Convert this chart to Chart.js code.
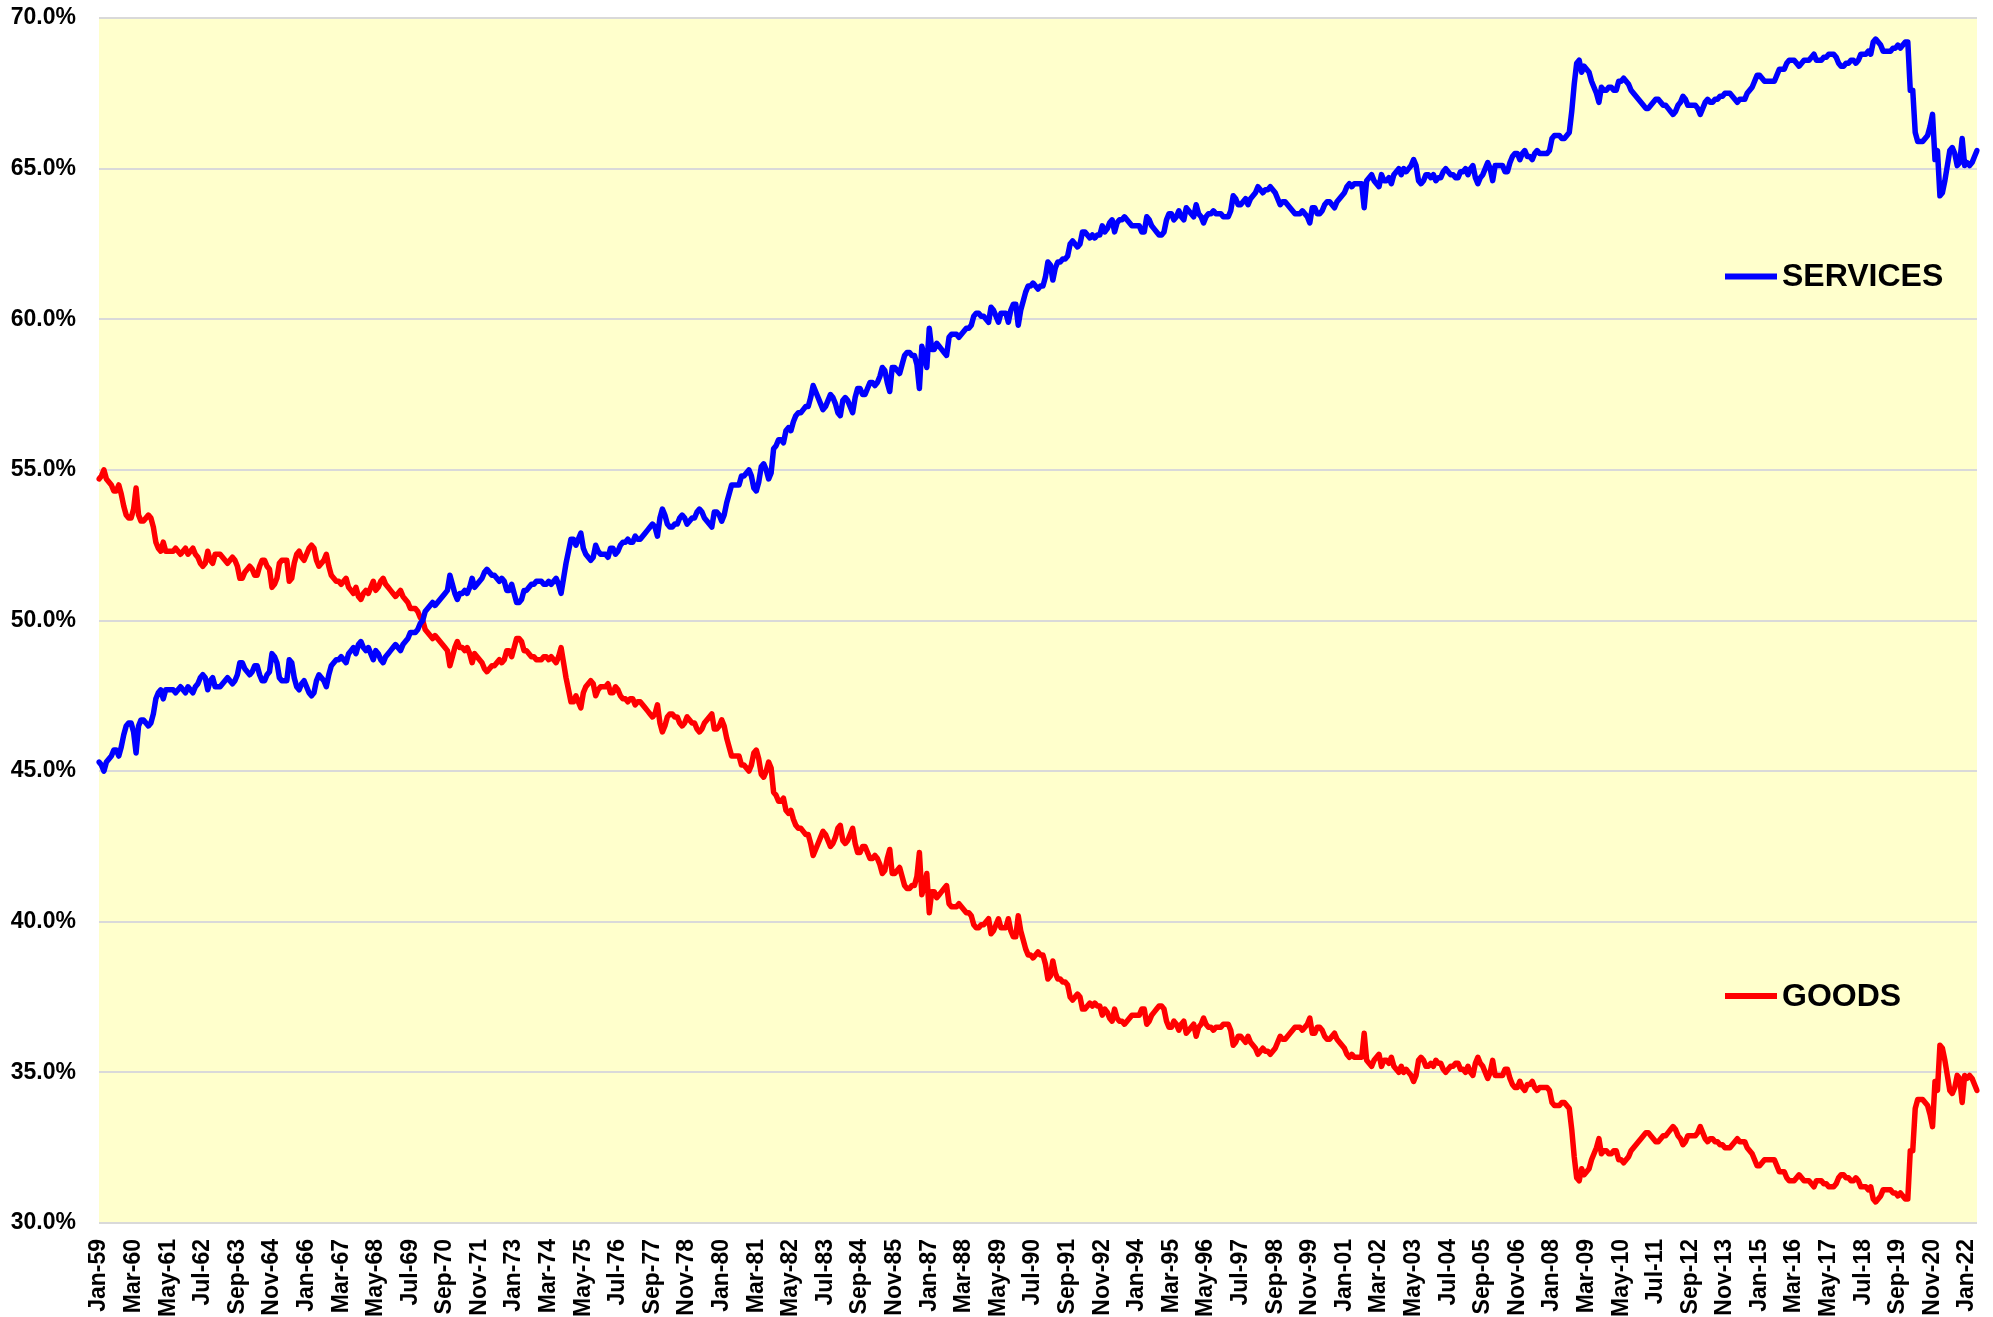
<!DOCTYPE html>
<html>
<head>
<meta charset="utf-8">
<script src="https://cdn.jsdelivr.net/npm/chart.js@4/dist/chart.umd.min.js"></script>
<style>
html,body{margin:0;padding:0;background:#ffffff;}
#wrap{width:1993px;height:1317px;}
</style>
</head>
<body>
<div id="wrap"><canvas id="c" width="1993" height="1317"></canvas></div>
<script>
// ---- DATA ----
const monthNames = ['Jan','Feb','Mar','Apr','May','Jun','Jul','Aug','Sep','Oct','Nov','Dec'];
const firstYear = 1959, lastYear = 2022, lastMonthIndex = 4; // data ends May-22
const xTickEvery = 14; // a tick label every 14 months
const yTicks = [30, 35, 40, 45, 50, 55, 60, 65, 70];

// Services share of spending (%), monthly, one row per year
const servicesShare = [
45.3,45.2,45.0,45.3,45.4,45.5,45.7,45.7,45.5,45.8,46.2,46.5,
46.6,46.6,46.3,45.6,46.5,46.7,46.7,46.6,46.5,46.6,46.9,47.4,
47.6,47.7,47.4,47.7,47.7,47.7,47.7,47.6,47.7,47.8,47.7,47.6,
47.8,47.7,47.6,47.8,47.9,48.1,48.2,48.1,47.7,48.0,48.1,47.8,
47.8,47.8,47.9,48.0,48.1,48.0,47.9,48.0,48.2,48.6,48.6,48.4,
48.3,48.2,48.3,48.5,48.5,48.2,48.0,48.0,48.2,48.3,48.9,48.8,
48.6,48.1,48.0,48.0,48.0,48.7,48.6,48.1,47.8,47.7,47.9,48.0,
47.8,47.6,47.5,47.6,48.0,48.2,48.1,48.0,47.8,48.2,48.5,48.6,
48.7,48.7,48.8,48.7,48.6,48.9,49.0,49.1,48.9,49.2,49.3,49.1,
49.0,49.1,48.9,48.7,49.0,48.9,48.7,48.6,48.8,48.9,49.0,49.1,
49.2,49.1,49.0,49.2,49.3,49.4,49.6,49.6,49.6,49.7,49.9,50.0,
50.3,50.4,50.5,50.6,50.5,50.6,50.7,50.8,50.9,51.0,51.5,51.2,
50.9,50.7,50.9,50.9,51.0,50.9,51.1,51.4,51.1,51.2,51.3,51.4,
51.6,51.7,51.6,51.5,51.5,51.4,51.3,51.4,51.3,51.0,51.0,51.2,
50.9,50.6,50.6,50.7,51.0,51.0,51.1,51.2,51.2,51.3,51.3,51.3,
51.2,51.2,51.3,51.2,51.3,51.4,51.2,50.9,51.4,51.9,52.3,52.7,
52.7,52.5,52.7,52.9,52.4,52.2,52.1,52.0,52.1,52.5,52.3,52.2,
52.2,52.2,52.1,52.4,52.4,52.2,52.3,52.5,52.6,52.6,52.7,52.6,
52.6,52.8,52.7,52.7,52.8,52.9,53.0,53.1,53.2,53.1,52.8,53.4,
53.7,53.5,53.2,53.1,53.1,53.2,53.2,53.4,53.5,53.4,53.2,53.3,
53.4,53.4,53.6,53.7,53.6,53.4,53.3,53.2,53.1,53.6,53.6,53.5,
53.3,53.5,53.9,54.2,54.5,54.5,54.5,54.5,54.8,54.8,54.9,55.0,
54.8,54.4,54.3,54.6,55.1,55.2,55.0,54.7,54.9,55.7,55.8,56.0,
56.0,55.9,56.3,56.4,56.3,56.6,56.8,56.9,56.9,57.0,57.1,57.1,
57.4,57.8,57.6,57.4,57.2,57.0,57.1,57.3,57.5,57.4,57.2,56.9,
56.8,57.3,57.4,57.3,57.1,56.9,57.4,57.7,57.7,57.5,57.5,57.7,
57.9,57.9,57.8,57.9,58.1,58.4,58.3,57.9,57.6,58.4,58.4,58.3,
58.2,58.5,58.8,58.9,58.9,58.8,58.8,58.5,57.7,59.1,58.8,58.4,
59.7,59.0,59.0,59.2,59.1,59.0,58.9,58.8,59.4,59.5,59.5,59.5,
59.4,59.5,59.6,59.7,59.7,59.8,60.1,60.2,60.2,60.1,60.1,60.0,
59.9,60.4,60.3,60.1,59.9,60.2,60.2,60.2,59.9,60.3,60.5,60.5,
59.8,60.3,60.6,60.9,61.1,61.1,61.2,61.1,61.0,61.1,61.1,61.4,
61.9,61.8,61.3,61.7,61.9,61.9,62.0,62.0,62.1,62.5,62.6,62.5,
62.4,62.5,62.9,62.9,62.8,62.7,62.8,62.7,62.8,62.8,63.1,62.9,
63.0,63.2,63.3,62.9,63.2,63.3,63.3,63.4,63.3,63.2,63.1,63.1,
63.1,63.1,62.9,62.9,63.4,63.3,63.1,63.0,62.9,62.8,62.8,62.9,
63.3,63.5,63.5,63.3,63.4,63.6,63.4,63.3,63.7,63.6,63.5,63.4,
63.8,63.5,63.4,63.2,63.4,63.5,63.5,63.6,63.5,63.5,63.5,63.4,
63.4,63.4,63.6,64.1,64.0,63.8,63.8,63.9,64.0,63.8,64.0,64.1,
64.2,64.4,64.3,64.2,64.3,64.3,64.4,64.3,64.2,64.0,63.8,63.9,
63.9,63.8,63.7,63.6,63.5,63.5,63.5,63.6,63.5,63.4,63.2,63.7,
63.7,63.5,63.5,63.6,63.8,63.9,63.9,63.8,63.7,63.9,64.0,64.1,
64.2,64.4,64.5,64.4,64.5,64.5,64.5,64.5,63.7,64.6,64.7,64.8,
64.6,64.5,64.4,64.8,64.6,64.6,64.7,64.5,64.8,64.9,65.0,64.8,
65.0,64.9,65.0,65.1,65.3,65.1,64.6,64.5,64.6,64.8,64.8,64.7,
64.8,64.6,64.7,64.7,64.9,65.0,64.9,64.8,64.8,64.7,64.7,64.9,
64.9,65.0,64.8,65.0,65.1,64.7,64.5,64.7,64.8,65.0,65.2,65.0,
64.6,65.1,65.1,65.1,65.1,64.9,64.9,65.2,65.4,65.5,65.5,65.3,
65.5,65.6,65.4,65.4,65.3,65.5,65.6,65.5,65.5,65.5,65.5,65.6,
66.0,66.1,66.1,66.1,66.0,66.0,66.1,66.2,66.9,67.8,68.5,68.6,
68.2,68.4,68.3,68.2,67.9,67.7,67.5,67.2,67.7,67.6,67.6,67.7,
67.7,67.6,67.6,67.9,67.9,68.0,67.9,67.8,67.6,67.5,67.4,67.3,
67.2,67.1,67.0,67.0,67.1,67.2,67.3,67.3,67.2,67.1,67.1,67.0,
66.9,66.8,66.9,67.1,67.2,67.4,67.3,67.1,67.1,67.1,67.1,67.0,
66.8,67.0,67.2,67.3,67.2,67.2,67.3,67.3,67.4,67.4,67.5,67.5,
67.5,67.4,67.3,67.2,67.3,67.3,67.3,67.5,67.6,67.7,67.9,68.1,
68.1,68.0,67.9,67.9,67.9,67.9,67.9,68.1,68.3,68.3,68.3,68.5,
68.6,68.6,68.6,68.5,68.4,68.5,68.6,68.6,68.6,68.7,68.8,68.6,
68.6,68.6,68.7,68.7,68.8,68.8,68.8,68.7,68.5,68.4,68.4,68.5,
68.5,68.6,68.6,68.5,68.6,68.8,68.8,68.8,68.9,68.8,69.2,69.3,
69.2,69.1,68.9,68.9,68.9,68.9,69.0,69.0,69.1,69.0,69.1,69.2,
69.2,67.6,67.6,66.2,65.9,65.9,65.9,66.0,66.1,66.4,66.8,65.3,
65.6,64.1,64.2,64.6,65.1,65.6,65.7,65.5,65.1,65.2,66.0,65.1,
65.2,65.1,65.2,65.4,65.6
];

// Goods share of spending (%), monthly, one row per year
const goodsShare = [
54.7,54.8,55.0,54.7,54.6,54.5,54.3,54.3,54.5,54.2,53.8,53.5,
53.4,53.4,53.7,54.4,53.5,53.3,53.3,53.4,53.5,53.4,53.1,52.6,
52.4,52.3,52.6,52.3,52.3,52.3,52.3,52.4,52.3,52.2,52.3,52.4,
52.2,52.3,52.4,52.2,52.1,51.9,51.8,51.9,52.3,52.0,51.9,52.2,
52.2,52.2,52.1,52.0,51.9,52.0,52.1,52.0,51.8,51.4,51.4,51.6,
51.7,51.8,51.7,51.5,51.5,51.8,52.0,52.0,51.8,51.7,51.1,51.2,
51.4,51.9,52.0,52.0,52.0,51.3,51.4,51.9,52.2,52.3,52.1,52.0,
52.2,52.4,52.5,52.4,52.0,51.8,51.9,52.0,52.2,51.8,51.5,51.4,
51.3,51.3,51.2,51.3,51.4,51.1,51.0,50.9,51.1,50.8,50.7,50.9,
51.0,50.9,51.1,51.3,51.0,51.1,51.3,51.4,51.2,51.1,51.0,50.9,
50.8,50.9,51.0,50.8,50.7,50.6,50.4,50.4,50.4,50.3,50.1,50.0,
49.7,49.6,49.5,49.4,49.5,49.4,49.3,49.2,49.1,49.0,48.5,48.8,
49.1,49.3,49.1,49.1,49.0,49.1,48.9,48.6,48.9,48.8,48.7,48.6,
48.4,48.3,48.4,48.5,48.5,48.6,48.7,48.6,48.7,49.0,49.0,48.8,
49.1,49.4,49.4,49.3,49.0,49.0,48.9,48.8,48.8,48.7,48.7,48.7,
48.8,48.8,48.7,48.8,48.7,48.6,48.8,49.1,48.6,48.1,47.7,47.3,
47.3,47.5,47.3,47.1,47.6,47.8,47.9,48.0,47.9,47.5,47.7,47.8,
47.8,47.8,47.9,47.6,47.6,47.8,47.7,47.5,47.4,47.4,47.3,47.4,
47.4,47.2,47.3,47.3,47.2,47.1,47.0,46.9,46.8,46.9,47.2,46.6,
46.3,46.5,46.8,46.9,46.9,46.8,46.8,46.6,46.5,46.6,46.8,46.7,
46.6,46.6,46.4,46.3,46.4,46.6,46.7,46.8,46.9,46.4,46.4,46.5,
46.7,46.5,46.1,45.8,45.5,45.5,45.5,45.5,45.2,45.2,45.1,45.0,
45.2,45.6,45.7,45.4,44.9,44.8,45.0,45.3,45.1,44.3,44.2,44.0,
44.0,44.1,43.7,43.6,43.7,43.4,43.2,43.1,43.1,43.0,42.9,42.9,
42.6,42.2,42.4,42.6,42.8,43.0,42.9,42.7,42.5,42.6,42.8,43.1,
43.2,42.7,42.6,42.7,42.9,43.1,42.6,42.3,42.3,42.5,42.5,42.3,
42.1,42.1,42.2,42.1,41.9,41.6,41.7,42.1,42.4,41.6,41.6,41.7,
41.8,41.5,41.2,41.1,41.1,41.2,41.2,41.5,42.3,40.9,41.2,41.6,
40.3,41.0,41.0,40.8,40.9,41.0,41.1,41.2,40.6,40.5,40.5,40.5,
40.6,40.5,40.4,40.3,40.3,40.2,39.9,39.8,39.8,39.9,39.9,40.0,
40.1,39.6,39.7,39.9,40.1,39.8,39.8,39.8,40.1,39.7,39.5,39.5,
40.2,39.7,39.4,39.1,38.9,38.9,38.8,38.9,39.0,38.9,38.9,38.6,
38.1,38.2,38.7,38.3,38.1,38.1,38.0,38.0,37.9,37.5,37.4,37.5,
37.6,37.5,37.1,37.1,37.2,37.3,37.2,37.3,37.2,37.2,36.9,37.1,
37.0,36.8,36.7,37.1,36.8,36.7,36.7,36.6,36.7,36.8,36.9,36.9,
36.9,36.9,37.1,37.1,36.6,36.7,36.9,37.0,37.1,37.2,37.2,37.1,
36.7,36.5,36.5,36.7,36.6,36.4,36.6,36.7,36.3,36.4,36.5,36.6,
36.2,36.5,36.6,36.8,36.6,36.5,36.5,36.4,36.5,36.5,36.5,36.6,
36.6,36.6,36.4,35.9,36.0,36.2,36.2,36.1,36.0,36.2,36.0,35.9,
35.8,35.6,35.7,35.8,35.7,35.7,35.6,35.7,35.8,36.0,36.2,36.1,
36.1,36.2,36.3,36.4,36.5,36.5,36.5,36.4,36.5,36.6,36.8,36.3,
36.3,36.5,36.5,36.4,36.2,36.1,36.1,36.2,36.3,36.1,36.0,35.9,
35.8,35.6,35.5,35.6,35.5,35.5,35.5,35.5,36.3,35.4,35.3,35.2,
35.4,35.5,35.6,35.2,35.4,35.4,35.3,35.5,35.2,35.1,35.0,35.2,
35.0,35.1,35.0,34.9,34.7,34.9,35.4,35.5,35.4,35.2,35.2,35.3,
35.2,35.4,35.3,35.3,35.1,35.0,35.1,35.2,35.2,35.3,35.3,35.1,
35.1,35.0,35.2,35.0,34.9,35.3,35.5,35.3,35.2,35.0,34.8,35.0,
35.4,34.9,34.9,34.9,34.9,35.1,35.1,34.8,34.6,34.5,34.5,34.7,
34.5,34.4,34.6,34.6,34.7,34.5,34.4,34.5,34.5,34.5,34.5,34.4,
34.0,33.9,33.9,33.9,34.0,34.0,33.9,33.8,33.1,32.2,31.5,31.4,
31.8,31.6,31.7,31.8,32.1,32.3,32.5,32.8,32.3,32.4,32.4,32.3,
32.3,32.4,32.4,32.1,32.1,32.0,32.1,32.2,32.4,32.5,32.6,32.7,
32.8,32.9,33.0,33.0,32.9,32.8,32.7,32.7,32.8,32.9,32.9,33.0,
33.1,33.2,33.1,32.9,32.8,32.6,32.7,32.9,32.9,32.9,32.9,33.0,
33.2,33.0,32.8,32.7,32.8,32.8,32.7,32.7,32.6,32.6,32.5,32.5,
32.5,32.6,32.7,32.8,32.7,32.7,32.7,32.5,32.4,32.3,32.1,31.9,
31.9,32.0,32.1,32.1,32.1,32.1,32.1,31.9,31.7,31.7,31.7,31.5,
31.4,31.4,31.4,31.5,31.6,31.5,31.4,31.4,31.4,31.3,31.2,31.4,
31.4,31.4,31.3,31.3,31.2,31.2,31.2,31.3,31.5,31.6,31.6,31.5,
31.5,31.4,31.4,31.5,31.4,31.2,31.2,31.2,31.1,31.2,30.8,30.7,
30.8,30.9,31.1,31.1,31.1,31.1,31.0,31.0,30.9,31.0,30.9,30.8,
30.8,32.4,32.4,33.8,34.1,34.1,34.1,34.0,33.9,33.6,33.2,34.7,
34.4,35.9,35.8,35.4,34.9,34.4,34.3,34.5,34.9,34.8,34.0,34.9,
34.8,34.9,34.8,34.6,34.4
];

// Month categories: Jan-59 ... May-22
const categories = [];
for (let y = firstYear; y <= lastYear; y++) {
  for (let m = 0; m < 12; m++) {
    if (y === lastYear && m > lastMonthIndex) break;
    categories.push(monthNames[m] + '-' + String(y % 100).padStart(2, '0'));
  }
}

const FONT = '"Liberation Sans", Arial, Helvetica, sans-serif';

const plotBackground = {
  id: 'plotBackground',
  beforeDraw(chart) {
    const { ctx, chartArea: a } = chart;
    ctx.save();
    ctx.fillStyle = '#FFFFCC';
    ctx.fillRect(a.left, a.top, a.right - a.left, a.bottom - a.top);
    ctx.restore();
  }
};

const seriesLabels = {
  id: 'seriesLabels',
  afterDatasetsDraw(chart) {
    const { ctx, chartArea: a } = chart;
    const items = [
      { text: chart.data.datasets[0].label, color: chart.data.datasets[0].borderColor, dy: 258.5 },
      { text: chart.data.datasets[1].label, color: chart.data.datasets[1].borderColor, dy: 978 }
    ];
    ctx.save();
    ctx.font = 'bold 32px ' + FONT;
    ctx.textBaseline = 'middle';
    ctx.textAlign = 'left';
    items.forEach(it => {
      const x0 = a.right - 252, y = a.top + it.dy;
      ctx.strokeStyle = it.color;
      ctx.lineWidth = 6;
      ctx.lineCap = 'butt';
      ctx.beginPath();
      ctx.moveTo(x0, y);
      ctx.lineTo(x0 + 52, y);
      ctx.stroke();
      ctx.fillStyle = '#000000';
      ctx.fillText(it.text, x0 + 57, y + 1);
    });
    ctx.restore();
  }
};

new Chart(document.getElementById('c'), {
  type: 'line',
  data: {
    labels: categories,
    datasets: [
      { label: 'SERVICES', data: servicesShare, borderColor: '#0000FF', borderWidth: 5.5,
        pointRadius: 0, tension: 0, fill: false, borderJoinStyle: 'round', borderCapStyle: 'round' },
      { label: 'GOODS', data: goodsShare, borderColor: '#FF0000', borderWidth: 5.5,
        pointRadius: 0, tension: 0, fill: false, borderJoinStyle: 'round', borderCapStyle: 'round' }
    ]
  },
  options: {
    responsive: false,
    animation: false,
    events: [],
    layout: { padding: { top: 18, right: 16, left: 0, bottom: 0 } },
    plugins: { legend: { display: false }, tooltip: { enabled: false } },
    scales: {
      x: {
        type: 'category',
        offset: false,
        grid: { display: false, drawTicks: false },
        border: { display: false },
        ticks: {
          autoSkip: false,
          maxRotation: 90,
          minRotation: 90,
          padding: 16,
          color: '#000000',
          font: { family: FONT, size: 23, weight: 'bold' },
          callback: function (v, i) { return i % xTickEvery === 0 ? this.getLabelForValue(v) : ''; }
        },
        afterFit: s => { s.height = 94; s.paddingLeft = 0; s.paddingRight = 0; }
      },
      y: {
        min: yTicks[0],
        max: yTicks[yTicks.length - 1],
        afterBuildTicks: s => { s.ticks = yTicks.map(v => ({ value: v })); },
        ticks: {
          padding: 23,
          color: '#000000',
          font: { family: FONT, size: 23, weight: 'bold' },
          callback: v => Number(v).toFixed(1) + '%'
        },
        grid: { color: '#D9D9D9', lineWidth: 2, drawTicks: false },
        border: { display: false },
        afterFit: s => { s.width = 99; s.paddingTop = 0; s.paddingBottom = 0; }
      }
    }
  },
  plugins: [plotBackground, seriesLabels]
});
</script>
</body>
</html>
